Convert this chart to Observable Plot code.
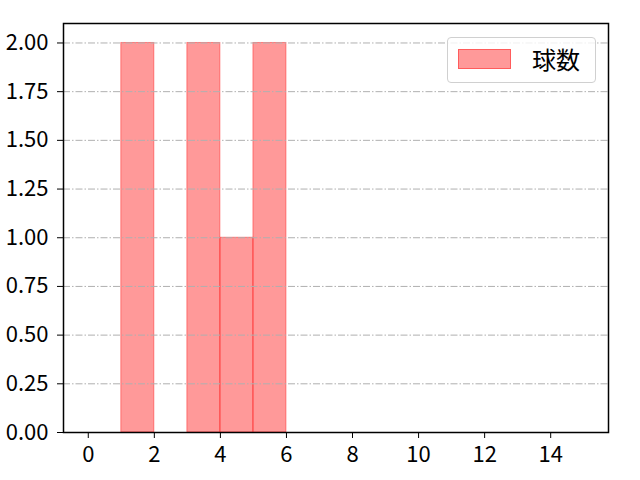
<!DOCTYPE html>
<html>
<head>
<meta charset="utf-8">
<script src="https://cdn.jsdelivr.net/npm/d3@7"></script>
<script src="https://cdn.jsdelivr.net/npm/@observablehq/plot@0.6"></script>
<style>
  html, body { margin: 0; padding: 0; background: #fff; }
  #wrap { position: relative; width: 640px; height: 480px; font-family: "Noto Sans CJK JP", "Noto Sans", sans-serif; }
  #legend { position: absolute; left: 447px; top: 37px; width: 149px; height: 46px;
    border: 1px solid #d0d0d0; border-radius: 4px; background: rgba(255,255,255,0.8); box-sizing: border-box; }
  #legend .patch { position: absolute; left: 10px; top: 11px; width: 53px; height: 20px;
    background: rgba(255,0,0,0.4); border: 1px solid rgba(255,0,0,0.4); box-sizing: border-box; }
  #legend .lab { position: absolute; left: 84px; top: 4px; font-size: 24px; line-height: 34px; color: #000; }
</style>
</head>
<body>
<div id="wrap"><div id="legend"><div class="patch"></div><div class="lab">球数</div></div></div>
<script>
const binStart = [1, 3, 4, 5];
const binEnd = [2, 4, 5, 6];
const counts = [2, 2, 1, 2];
const xTicks = [0, 2, 4, 6, 8, 10, 12, 14];
const yTicks = [0, 0.25, 0.5, 0.75, 1.0, 1.25, 1.5, 1.75, 2.0];
const seriesName = "球数";

const bins = binStart.map((s, i) => ({x1: s, x2: binEnd[i], y: counts[i]}));

const chart = Plot.plot({
  width: 640,
  height: 480,
  marginLeft: 63,
  marginRight: 32,
  marginTop: 23,
  marginBottom: 48,
  style: {fontFamily: "'Noto Sans CJK JP', 'Noto Sans', sans-serif", fontSize: "22px", color: "#000", background: "transparent"},
  x: {domain: [-0.75, 15.75]},
  y: {domain: [0, 2.1]},
  marks: [
    Plot.rectY(bins, {x1: "x1", x2: "x2", y: "y", fill: "#ff0000", fillOpacity: 0.4, stroke: "#ff0000", strokeOpacity: 0.4, strokeWidth: 1, inset: 0}),
    Plot.ruleY(yTicks, {stroke: "#b0b0b0", strokeWidth: 1, strokeDasharray: "7,2,1.5,2"}),
    Plot.frame({stroke: "#000", strokeWidth: 1.5}),
    Plot.axisX({ticks: xTicks, tickSize: 6, tickPadding: 8, label: null, tickFormat: d => String(d)}),
    Plot.axisY({ticks: yTicks, tickSize: 6, tickPadding: 9, label: null, tickFormat: d3.format(".2f")})
  ]
});
document.getElementById("wrap").prepend(chart);
</script>
</body>
</html>
